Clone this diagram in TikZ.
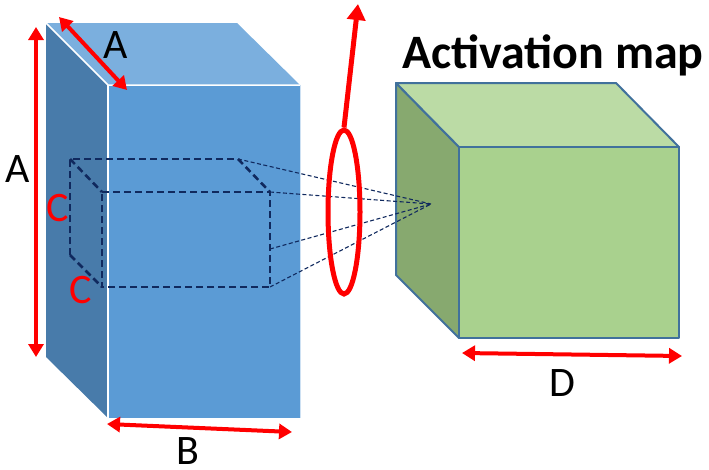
\documentclass[tikz,border=0pt]{standalone}
\usepackage{fontspec}
\setmainfont{Carlito}
\usetikzlibrary{arrows.meta,shapes.geometric}
\definecolor{bluefront}{HTML}{5B9BD5}
\definecolor{blueside}{HTML}{487BAA}
\definecolor{bluetop}{HTML}{7BAFDE}
\definecolor{greenfront}{HTML}{A9D18E}
\definecolor{greenside}{HTML}{87A96F}
\definecolor{greentop}{HTML}{BBDBA5}
\definecolor{greenedge}{HTML}{41719C}
\definecolor{navy}{HTML}{10295E}
\definecolor{mark}{HTML}{FF0000}
\tikzset{
  greenfacestyle/.style={draw=greenedge, line width=2pt, line join=round},
  fieldedge/.style={draw=navy, line width=2.6pt, dash pattern=on 7pt off 4pt},
  fanline/.style={draw=navy, line width=1.1pt, dash pattern=on 4pt off 2.5pt},
  dimarrow/.style={draw=mark, line width=4pt,
    {Triangle[length=13pt,width=15pt]}-{Triangle[length=13pt,width=15pt]}},
  dimlabel/.style={font=\fontsize{42}{42}\selectfont, inner sep=0pt},
  redlabel/.style={dimlabel, text=mark}
}
\begin{document}
\begin{tikzpicture}[x=1pt,y=-1pt]
\useasboundingbox (0,0) rectangle (709,469);

% input volume (blue box)
\coordinate (bBL) at (46,23);   % back top-left
\coordinate (bBR) at (237,23);  % back top-right
\coordinate (bFL) at (108,85);  % front top-left
\coordinate (bFR) at (300,85);  % front top-right
\coordinate (bSB) at (46,357);  % side bottom (back)
\coordinate (bFB) at (108,418); % front bottom-left
\coordinate (bRB) at (300,418); % front bottom-right
\fill[blueside] (bBL) -- (bFL) -- (bFB) -- (bSB) -- cycle;
\fill[bluetop] (bBL) -- (bBR) -- (bFR) -- (bFL) -- cycle;
\fill[bluefront] (bFL) -- (bFR) -- (bRB) -- (bFB) -- cycle;
\draw[white, line width=1.5pt] (bBL) -- (bFL) -- (bFR);
\draw[white, line width=1.5pt] (bFL) -- (bFB);
\draw[white!70!bluefront, line width=1pt] (bFR) -- (bRB);

% receptive field (dashed box)
\coordinate (rBTL) at (70,159);
\coordinate (rBTR) at (238,159);
\coordinate (rBBL) at (70,255);
\coordinate (rFTL) at (102,192);
\coordinate (rFTR) at (270,192);
\coordinate (rFBR) at (270,287);
\coordinate (rFBL) at (102,287);
\coordinate (rFMR) at (270,249);
\draw[fieldedge] (rBBL) -- (rBTL) -- (rBTR);
\draw[fieldedge] (rBTL) -- (rFTL);
\draw[fieldedge] (rBTR) -- (rFTR);
\draw[fieldedge] (rBBL) -- (rFBL);
\draw[fieldedge] (rFTL) -- (rFTR) -- (rFBR) -- (rFBL) -- cycle;

% activation map (green cube)
\coordinate (gBL) at (396,83);
\coordinate (gBR) at (616,83);
\coordinate (gFL) at (459,147);
\coordinate (gFR) at (679,147);
\coordinate (gSB) at (396,275);
\coordinate (gFB) at (459,338);
\coordinate (gRB) at (679,338);
\filldraw[greenfacestyle, fill=greenside] (gBL) -- (gFL) -- (gFB) -- (gSB) -- cycle;
\filldraw[greenfacestyle, fill=greentop] (gBL) -- (gBR) -- (gFR) -- (gFL) -- cycle;
\filldraw[greenfacestyle, fill=greenfront] (gFL) -- (gFR) -- (gRB) -- (gFB) -- cycle;

% projection of the field onto one neuron
\coordinate (focus) at (431,204);
\draw[fanline] (rBTR) -- (focus);
\draw[fanline] (rFTR) -- (focus);
\draw[fanline] (rFMR) -- (focus);
\draw[fanline] (rFBR) -- (focus);

% highlighted neuron with arrow
\node[draw=mark, line width=5pt, ellipse, minimum width=32pt, minimum height=164pt, inner sep=0pt]
  (neuron) at (344,212) {};
\coordinate (neurontip) at (358,4);
\draw[draw=mark, line width=5pt, -{Triangle[length=16pt,width=18pt]}] (neuron.north) -- (neurontip);

% dimension arrows
\coordinate (aVt) at (36,27);
\coordinate (aVb) at (36,357);
\draw[dimarrow] (aVt) -- (aVb);
\coordinate (aDt) at (59,17);
\coordinate (aDb) at (127,90);
\draw[dimarrow] (aDt) -- (aDb);
\coordinate (bL) at (107,424);
\coordinate (bR) at (292,432);
\draw[dimarrow] (bL) -- (bR);
\coordinate (dL) at (462,353);
\coordinate (dR) at (682,356);
\draw[dimarrow] (dL) -- (dR);

% labels
\node[dimlabel] (labA1) at (18,169) {A};
\node[dimlabel] (labA2) at (116,45) {A};
\node[dimlabel] (labB) at (188,451) {B};
\node[dimlabel] (labD) at (562,383) {D};
\node[redlabel] (labC1) at (58,208) {C};
\node[redlabel] (labC2) at (81,290) {C};
\node[font=\bfseries\fontsize{48}{48}\selectfont, inner sep=0pt, anchor=base west]
  (title) at (402,68) {Activation map};
\end{tikzpicture}
\end{document}
